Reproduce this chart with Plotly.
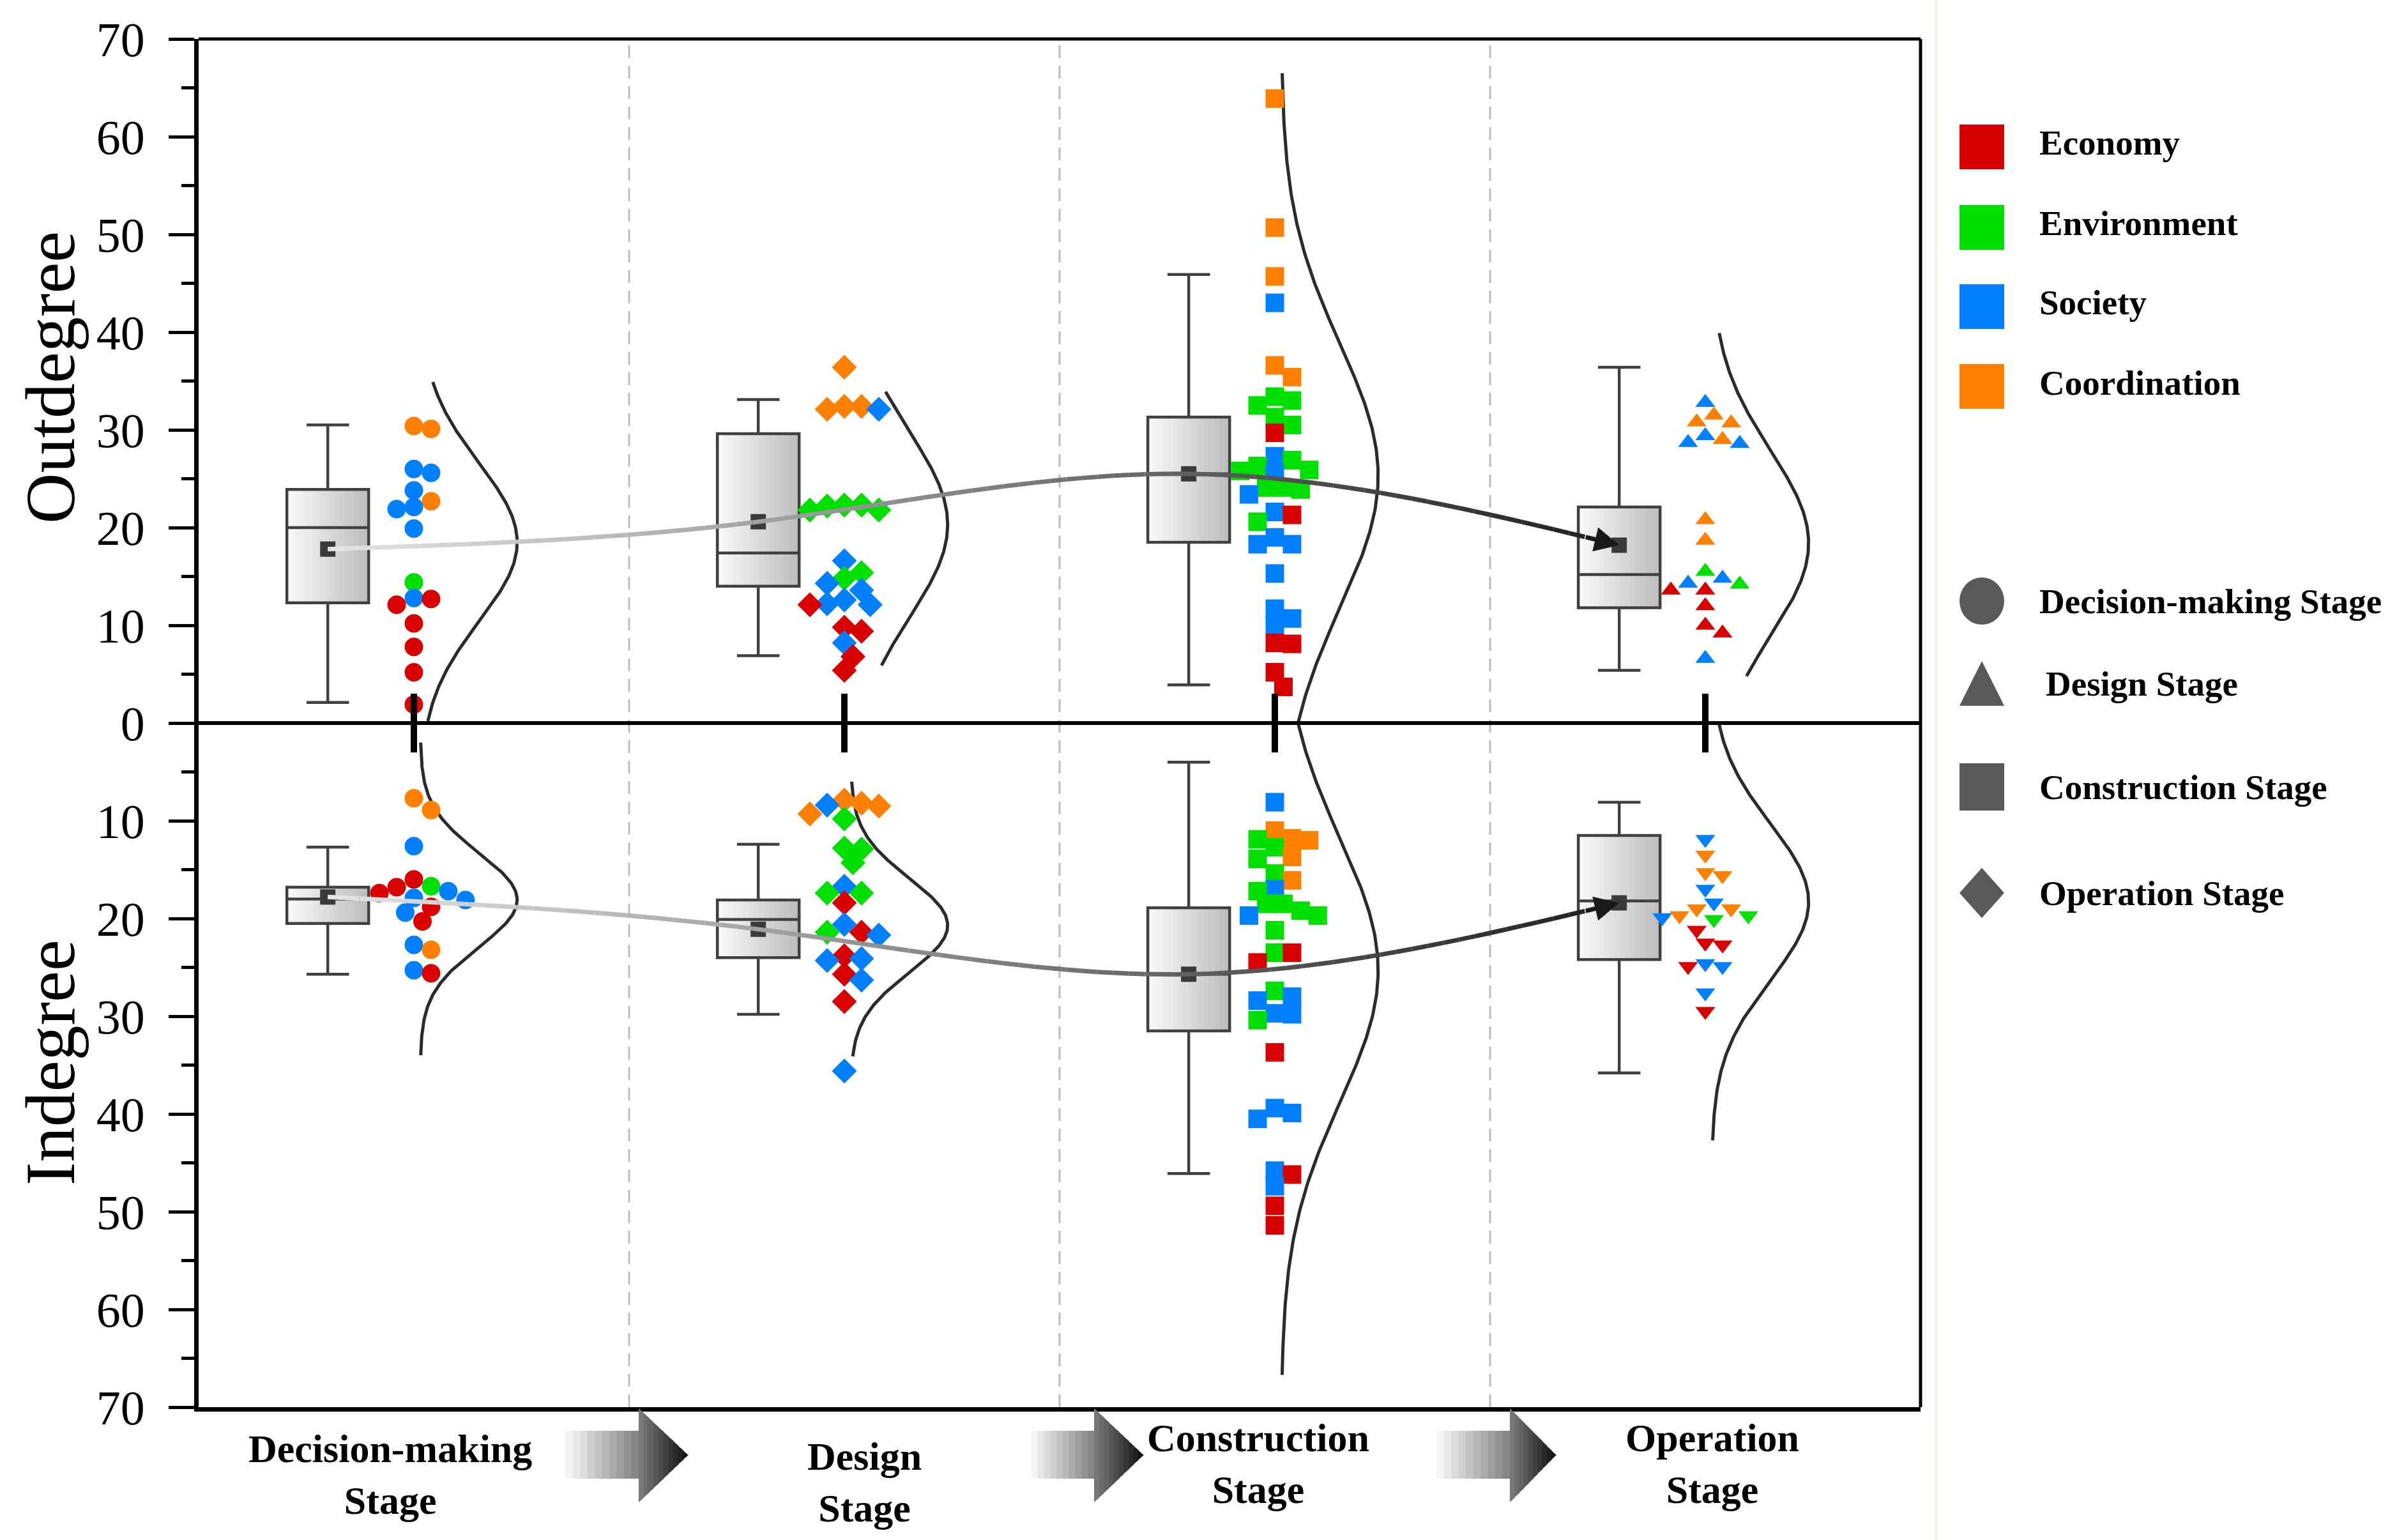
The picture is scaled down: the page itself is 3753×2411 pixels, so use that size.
import numpy as np
import plotly.graph_objects as go

# ---------------- data ----------------
stage_names = ["Decision-making Stage", "Design Stage", "Construction Stage", "Operation Stage"]
stage_axis_labels = ["Decision-making<br>Stage", "Design<br>Stage", "Construction<br>Stage", "Operation<br>Stage"]
category_names = ["Economy", "Environment", "Society", "Coordination"]
category_codes = ["E", "N", "S", "C"]

dm_out_vals = [30.4, 30.1, 26.0, 25.6, 23.8, 22.7, 22.1, 21.9, 19.9, 14.4, 12.8, 12.7, 12.1, 10.2, 7.8, 5.2, 1.9]
dm_out_cats = ["C", "C", "S", "S", "S", "C", "S", "S", "S", "N", "S", "E", "E", "E", "E", "E", "E"]
dm_in_vals = [7.7, 8.9, 12.6, 16.0, 16.7, 16.8, 17.2, 17.4, 17.9, 18.1, 18.8, 19.4, 20.3, 22.7, 23.2, 25.3, 25.6]
dm_in_cats = ["C", "C", "S", "E", "N", "E", "S", "E", "S", "S", "E", "S", "E", "S", "C", "S", "E"]

design_out_vals = [36.4, 32.4, 32.4, 32.1, 32.1, 22.3, 22.3, 22.2, 21.8, 21.8, 16.6, 15.4, 14.8, 14.3, 13.6,
                   12.6, 12.2, 12.1, 12.1, 9.8, 9.4, 8.2, 6.8, 5.4]
design_out_cats = ["C", "C", "C", "C", "S", "N", "N", "N", "N", "N", "S", "N", "N", "S", "S",
                   "S", "S", "S", "E", "E", "E", "S", "E", "E"]
design_in_vals = [7.9, 8.2, 8.4, 8.5, 9.3, 9.8, 12.8, 12.9, 14.3, 16.7, 17.4, 17.4, 18.4, 20.6, 21.4,
                  21.4, 21.7, 23.8, 24.1, 24.3, 25.7, 26.3, 28.5, 35.6]
design_in_cats = ["C", "C", "S", "C", "C", "N", "N", "N", "N", "S", "N", "N", "E", "S", "E",
                  "N", "S", "E", "S", "S", "E", "S", "E", "S"]

constr_out_vals = [63.9, 50.7, 45.7, 43.0, 36.6, 35.4, 33.4, 33.0, 32.5, 31.3, 30.5, 29.7, 27.3, 26.9, 26.3,
                   25.9, 25.8, 25.5, 24.1, 24.1, 23.9, 23.4, 21.6, 21.3, 20.6, 19.0, 18.3, 18.3, 15.3, 11.7,
                   10.7, 10.0, 8.2, 8.1, 5.2, 3.7]
constr_out_cats = ["C", "C", "C", "S", "C", "C", "N", "N", "N", "N", "N", "E", "S", "N", "N",
                   "N", "N", "S", "N", "N", "N", "S", "S", "E", "N", "S", "S", "S", "S", "S",
                   "S", "S", "E", "E", "E", "E"]
constr_in_vals = [8.1, 11.0, 11.8, 11.9, 12.0, 12.7, 13.7, 13.9, 15.4, 16.1, 17.0, 17.2, 18.5, 18.5, 19.2,
                  19.7, 19.7, 21.2, 23.5, 23.5, 24.5, 27.4, 28.0, 28.4, 29.7, 29.8, 30.4, 33.7, 39.4, 39.9,
                  40.5, 45.8, 46.2, 47.4, 49.4, 51.4]
constr_in_cats = ["S", "C", "C", "N", "C", "N", "C", "N", "N", "C", "S", "N", "N", "N", "N",
                  "S", "N", "N", "N", "E", "E", "N", "S", "S", "S", "S", "N", "E", "S", "S",
                  "S", "S", "E", "S", "E", "E"]

op_out_vals = [32.8, 31.5, 30.8, 30.7, 29.4, 29.0, 28.7, 28.6, 20.8, 18.7, 15.5, 14.8, 14.3, 14.2, 13.6,
               13.6, 12.0, 10.0, 9.2, 6.6]
op_out_cats = ["S", "C", "C", "C", "S", "C", "S", "S", "C", "C", "N", "S", "S", "N", "E",
               "E", "E", "E", "E", "S"]
op_in_vals = [11.9, 13.5, 15.3, 15.6, 17.0, 18.4, 19.0, 19.0, 19.7, 19.7, 19.9, 20.1, 21.2, 22.5, 22.7,
              24.6, 24.9, 24.9, 27.6, 29.5]
op_in_cats = ["S", "C", "C", "C", "S", "S", "C", "C", "C", "N", "S", "N", "E", "E", "E",
              "S", "S", "E", "S", "E"]

# box statistics per stage (Outdegree)
out_lower = [2.1, 6.9, 3.9, 5.4]
out_q1 = [12.3, 14.0, 18.5, 11.8]
out_median = [20.0, 17.4, 25.5, 15.2]
out_q3 = [23.9, 29.6, 31.3, 22.1]
out_upper = [30.5, 33.1, 45.9, 36.4]
out_mean = [17.8, 20.6, 25.5, 18.2]
# box statistics per stage (Indegree)
in_lower = [12.7, 12.4, 4.0, 8.1]
in_q1 = [16.8, 18.1, 18.9, 11.5]
in_median = [18.0, 20.1, 25.7, 18.2]
in_q3 = [20.5, 24.0, 31.5, 24.2]
in_upper = [25.7, 29.8, 46.1, 35.8]
in_mean = [17.8, 21.1, 25.7, 18.4]

# normal curves (mean, sd, from, to)
out_curve_mean = [18.5, 20.3, 25.3, 18.4]
out_curve_sd = [8.1, 9.5, 13.5, 9.5]
out_curve_lo = [0.2, 5.9, 0.0, 4.8]
out_curve_hi = [34.9, 33.9, 66.5, 39.9]
in_curve_mean = [18.1, 20.7, 25.3, 18.3]
in_curve_sd = [4.8, 4.8, 13.5, 8.0]
in_curve_lo = [2.0, 6.0, 0.0, 0.0]
in_curve_hi = [34.0, 34.1, 66.7, 42.7]

y_ticks = [70, 60, 50, 40, 30, 20, 10, 0, 10, 20, 30, 40, 50, 60, 70]

# ---------------- styling ----------------
W, H = 3753, 2411
ML, MR, MT, MB = 311, 746, 61, 208
PW, PH = W - ML - MR, H - MT - MB
SERIF = "Liberation Serif"
cat_colors = {"E": "#d90000", "N": "#00e000", "S": "#0080ff", "C": "#ff7f00"}
centers = [1, 2, 3, 4]
BOX_OFF = -0.2
BOX_W = 0.19
PX_X = PW / 4.0
PX_Y = PH / 140.0

stage_out = [(dm_out_vals, dm_out_cats), (design_out_vals, design_out_cats),
             (constr_out_vals, constr_out_cats), (op_out_vals, op_out_cats)]
stage_in = [(dm_in_vals, dm_in_cats), (design_in_vals, design_in_cats),
            (constr_in_vals, constr_in_cats), (op_in_vals, op_in_cats)]
out_symbols = ["circle", "diamond", "square", "triangle-up"]
in_symbols = ["circle", "diamond", "square", "triangle-down"]
sym_sizes = [29, 30, 29, 27]


def gray(v):
    v = int(round(v))
    return f"rgb({v},{v},{v})"


def swarm(values, center, step=0.02, mind=23.0):
    placed, xs = [], []
    cands = [0.0]
    for i in range(1, 30):
        cands += [i * step, -i * step]
    for v in values:
        yp = v * PX_Y
        chosen = cands[-1]
        for off in cands:
            xp = (center + off) * PX_X
            if all((xp - a) ** 2 + (yp - b) ** 2 >= mind ** 2 for a, b in placed):
                chosen = off
                break
        placed.append(((center + chosen) * PX_X, yp))
        xs.append(center + chosen)
    return xs


def natural_spline(xk, yk, xs):
    xk = np.asarray(xk, float)
    yk = np.asarray(yk, float)
    n = len(xk)
    h = np.diff(xk)
    A = np.zeros((n, n))
    r = np.zeros(n)
    A[0, 0] = 1
    A[-1, -1] = 1
    for i in range(1, n - 1):
        A[i, i - 1] = h[i - 1]
        A[i, i] = 2 * (h[i - 1] + h[i])
        A[i, i + 1] = h[i]
        r[i] = 6 * ((yk[i + 1] - yk[i]) / h[i] - (yk[i] - yk[i - 1]) / h[i - 1])
    M = np.linalg.solve(A, r)
    out = []
    for x in xs:
        i = int(min(max(np.searchsorted(xk, x) - 1, 0), n - 2))
        t1 = xk[i + 1] - x
        t0 = x - xk[i]
        hi = h[i]
        s = (M[i] * t1 ** 3 / (6 * hi) + M[i + 1] * t0 ** 3 / (6 * hi)
             + (yk[i] / hi - M[i] * hi / 6) * t1 + (yk[i + 1] / hi - M[i + 1] * hi / 6) * t0)
        out.append(s)
    return np.array(out)


def px2paper(xo, yo):
    return (xo - ML) / PW, (H - MB - yo) / PH


fig = go.Figure()
shapes = []
annotations = []

# dashed stage separators
for xs_ in [1.5, 2.5, 3.5]:
    shapes.append(dict(type="line", xref="x", yref="y", x0=xs_, x1=xs_, y0=-70, y1=70, layer="below",
                       line=dict(color="#bdbdbd", width=3, dash="20px,12px")))

# box plots with gradient fill
for i, c in enumerate(centers):
    pos = c + BOX_OFF
    for sign, lo, q1, med, q3, hi in [
        (1, out_lower[i], out_q1[i], out_median[i], out_q3[i], out_upper[i]),
        (-1, in_lower[i], in_q1[i], in_median[i], in_q3[i], in_upper[i])]:
        nstrip = 16
        for k in range(nstrip):
            xa = pos - BOX_W / 2 + BOX_W * k / nstrip
            xb = pos - BOX_W / 2 + BOX_W * (k + 1) / nstrip + 0.001
            shapes.append(dict(type="rect", xref="x", yref="y", x0=xa, x1=xb, y0=sign * q1, y1=sign * q3,
                               layer="below", line=dict(width=0),
                               fillcolor=gray(248 - 58 * k / (nstrip - 1))))
        vals = sorted([sign * lo, sign * q1, sign * med, sign * q3, sign * hi])
        fig.add_trace(go.Box(x=[pos], lowerfence=[vals[0]], q1=[vals[1]], median=[vals[2]], q3=[vals[3]],
                             upperfence=[vals[4]], width=BOX_W, whiskerwidth=0.52,
                             fillcolor="rgba(0,0,0,0)", line=dict(color="#404040", width=4.5),
                             boxpoints=False, hoverinfo="skip", showlegend=False))

# normal curves
BASE_OFF, AMP = 0.015, 0.225
for i, c in enumerate(centers):
    for sign, m, sd, lo, hi in [
        (1, out_curve_mean[i], out_curve_sd[i], out_curve_lo[i], out_curve_hi[i]),
        (-1, in_curve_mean[i], in_curve_sd[i], in_curve_lo[i], in_curve_hi[i])]:
        v = np.linspace(lo, hi, 240)
        x = c + BASE_OFF + AMP * np.exp(-0.5 * ((v - m) / sd) ** 2)
        fig.add_trace(go.Scatter(x=x, y=sign * v, mode="lines", line=dict(color="#2b2b2b", width=5),
                                 hoverinfo="skip", showlegend=False))

# scatter points
for i, c in enumerate(centers):
    for sign, (vals, cats), sym in [(1, stage_out[i], out_symbols[i]), (-1, stage_in[i], in_symbols[i])]:
        xs = swarm(vals, c)
        fig.add_trace(go.Scatter(x=xs, y=[sign * v for v in vals], mode="markers",
                                 marker=dict(symbol=sym, size=sym_sizes[i],
                                             color=[cat_colors[k] for k in cats], line=dict(width=0)),
                                 hoverinfo="skip", showlegend=False))

# mean markers
mean_x = [c + BOX_OFF for c in centers]
fig.add_trace(go.Scatter(x=mean_x + mean_x, y=out_mean + [-m for m in in_mean], mode="markers",
                         marker=dict(symbol="square", size=24, color="#3a3a3a", line=dict(width=0)),
                         hoverinfo="skip", showlegend=False))

# gradient trend curves with arrows
for sign, means in [(1, out_mean), (-1, in_mean)]:
    yk = [sign * m for m in means]
    x_end = mean_x[-1] - 0.08
    xs = np.linspace(mean_x[0], x_end, 161)
    ys = natural_spline(mean_x, yk, xs)
    nseg = 80
    step = (len(xs) - 1) // nseg
    for s in range(nseg):
        a, b = s * step, min((s + 1) * step + 1, len(xs))
        t = (xs[a] - mean_x[0]) / (mean_x[-1] - mean_x[0])
        fig.add_trace(go.Scatter(x=xs[a:b], y=ys[a:b], mode="lines",
                                 line=dict(color=gray(228 - 200 * t), width=7),
                                 hoverinfo="skip", showlegend=False))
    annotations.append(dict(x=mean_x[-1], y=yk[-1], ax=xs[-1], ay=ys[-1], xref="x", yref="y",
                            axref="x", ayref="y", text="", showarrow=True, arrowhead=2, arrowsize=1.1,
                            arrowwidth=7, arrowcolor="#1a1a1a", standoff=0))

# zero line and stage ticks
shapes.append(dict(type="line", xref="paper", yref="y", x0=0, x1=1, y0=0, y1=0, layer="above",
                   line=dict(color="black", width=6)))
for c in centers:
    shapes.append(dict(type="line", xref="x", yref="y", x0=c, x1=c, y0=-3, y1=3, layer="above",
                       line=dict(color="black", width=10)))
# top and right frame
shapes.append(dict(type="line", xref="paper", yref="paper", x0=0, x1=1, y0=1, y1=1, layer="above",
                   line=dict(color="black", width=5)))
shapes.append(dict(type="line", xref="paper", yref="paper", x0=1, x1=1, y0=0, y1=1, layer="above",
                   line=dict(color="black", width=5)))
# faint legend border
lx, _ = px2paper(3031, 0)
shapes.append(dict(type="line", xref="paper", yref="paper", x0=lx, x1=lx, y0=px2paper(0, 2411)[1],
                   y1=px2paper(0, 0)[1], line=dict(color="#f7e8de", width=3)))

# stage labels under the axis
label_px = [611, 1353, 1970, 2681]
label_py = [2308, 2320, 2291, 2291]
for txt, xo, yo in zip(stage_axis_labels, label_px, label_py):
    px, py = px2paper(xo, yo)
    annotations.append(dict(x=px, y=py, xref="paper", yref="paper", text=f"<b>{txt}</b>", showarrow=False,
                            xanchor="center", yanchor="middle",
                            font=dict(family=SERIF, size=62, color="black")))

# gradient block arrows between labels
arrow_px = [(885, 1000, 1077), (1615, 1713, 1790), (2249, 2364, 2436)]
shaft_top, shaft_bot, head_top, head_bot, tip_y = 2240, 2315, 2205, 2352, 2278
for x0o, x1o, x2o in arrow_px:
    ns = 10
    for k in range(ns):
        xa = x0o + (x1o - x0o) * k / ns
        xb = x0o + (x1o - x0o) * (k + 1) / ns + 1
        pa, pt = px2paper(xa, shaft_top)
        pb, pbm = px2paper(xb, shaft_bot)
        shapes.append(dict(type="rect", xref="paper", yref="paper", x0=pa, x1=pb, y0=pbm, y1=pt,
                           line=dict(width=0), fillcolor=gray(244 - 110 * k / (ns - 1))))
    nh = 10
    for k in range(nh):
        xa = x1o + (x2o - x1o) * k / nh
        xb = x1o + (x2o - x1o) * (k + 1) / nh
        fa, fb = k / nh, (k + 1) / nh
        ya_t = head_top + (tip_y - head_top) * fa
        ya_b = head_bot + (tip_y - head_bot) * fa
        yb_t = head_top + (tip_y - head_top) * fb
        yb_b = head_bot + (tip_y - head_bot) * fb
        p1 = px2paper(xa, ya_t)
        p2 = px2paper(xb + 0.8, yb_t)
        p3 = px2paper(xb + 0.8, yb_b)
        p4 = px2paper(xa, ya_b)
        path = (f"M {p1[0]:.5f},{p1[1]:.5f} L {p2[0]:.5f},{p2[1]:.5f} "
                f"L {p3[0]:.5f},{p3[1]:.5f} L {p4[0]:.5f},{p4[1]:.5f} Z")
        shapes.append(dict(type="path", xref="paper", yref="paper", path=path, line=dict(width=0),
                           fillcolor=gray(120 - 100 * k / (nh - 1))))

# axis titles
for txt, yo in [("Outdegree", 591), ("Indegree", 1664)]:
    px, py = px2paper(79, yo)
    annotations.append(dict(x=px, y=py, xref="paper", yref="paper", text=txt, textangle=-90,
                            showarrow=False, xanchor="center", yanchor="middle",
                            font=dict(family=SERIF, size=110, color="black")))

# custom legend
leg_sym_x, leg_txt_x = 3103, 3191
leg_cat_y = [230, 356, 480, 605]
leg_stage_y = [941, 1070, 1232, 1398]
S = 70
for code, name, yo in zip(category_codes, category_names, leg_cat_y):
    px, py = px2paper(leg_sym_x, yo)
    shapes.append(dict(type="rect", xref="paper", yref="paper", xsizemode="pixel", ysizemode="pixel",
                       xanchor=px, yanchor=py, x0=-S / 2, x1=S / 2, y0=-S / 2, y1=S / 2,
                       fillcolor=cat_colors[code], line=dict(width=0)))
    tx, ty = px2paper(leg_txt_x, yo - 6)
    annotations.append(dict(x=tx, y=ty, xref="paper", yref="paper", text=f"<b>{name}</b>", showarrow=False,
                            xanchor="left", yanchor="middle", font=dict(family=SERIF, size=55, color="black")))
stage_leg_kinds = ["circle", "triangle", "square", "diamond"]
for kind, name, yo in zip(stage_leg_kinds, stage_names, leg_stage_y):
    px, py = px2paper(leg_sym_x, yo)
    base = dict(xref="paper", yref="paper", xsizemode="pixel", ysizemode="pixel", xanchor=px, yanchor=py,
                fillcolor="#595959", line=dict(width=0))
    if kind == "circle":
        shapes.append(dict(type="circle", x0=-S / 2, x1=S / 2, y0=-S * 0.53, y1=S * 0.53, **base))
    elif kind == "square":
        shapes.append(dict(type="rect", x0=-S / 2, x1=S / 2, y0=-S * 0.53, y1=S * 0.53, **base))
    elif kind == "triangle":
        shapes.append(dict(type="path", path=f"M {-S/2},{-S/2} L {S/2},{-S/2} L 0,{S/2} Z", **base))
    else:
        shapes.append(dict(type="path", path=f"M {-S/2},0 L 0,{S*0.56} L {S/2},0 L 0,{-S*0.56} Z", **base))
    tx, ty = px2paper(leg_txt_x + (10 if kind == "triangle" else 0), yo)
    annotations.append(dict(x=tx, y=ty, xref="paper", yref="paper", text=f"<b>{name}</b>", showarrow=False,
                            xanchor="left", yanchor="middle", font=dict(family=SERIF, size=55, color="black")))

tickvals = list(range(-70, 71, 10))
minor_vals = [v for v in range(-65, 70, 10)]
fig.update_layout(
    width=W, height=H,
    margin=dict(l=ML, r=MR, t=MT, b=MB),
    paper_bgcolor="white", plot_bgcolor="white",
    showlegend=False,
    shapes=shapes, annotations=annotations,
    xaxis=dict(range=[0.5, 4.5], showline=True, linewidth=7, linecolor="black", ticks="",
               showticklabels=False, showgrid=False, zeroline=False),
    yaxis=dict(range=[-70, 70], tickmode="array", tickvals=tickvals[::-1], ticktext=y_ticks,
               ticks="outside", ticklen=40, tickwidth=5, tickcolor="black",
               showline=True, linewidth=7, linecolor="black", showgrid=False, zeroline=False,
               tickfont=dict(family=SERIF, size=76, color="black"), ticklabelstandoff=22,
               minor=dict(tickvals=minor_vals, ticks="outside", ticklen=20, tickwidth=5, tickcolor="black")),
)

fig.write_html("out.html", config={"displayModeBar": False},
               post_script="document.body.style.margin='0';document.body.style.overflow='hidden';")
